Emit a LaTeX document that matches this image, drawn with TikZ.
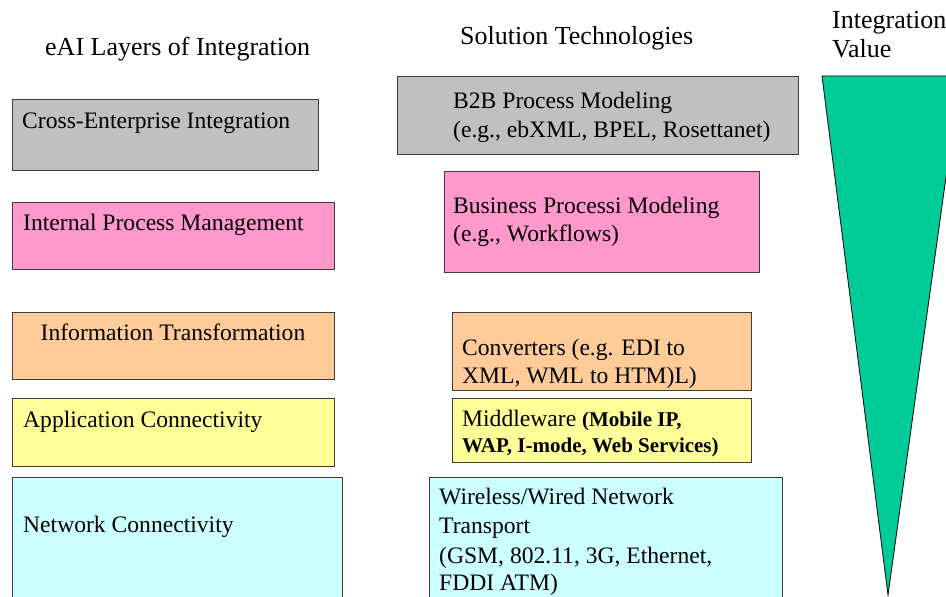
\documentclass[tikz,border=0pt]{standalone}
\usepackage{fontspec}
\setmainfont{Liberation Serif}
\definecolor{cgray}{HTML}{C0C0C0}
\definecolor{cpink}{HTML}{FF99CC}
\definecolor{corange}{HTML}{FFCC99}
\definecolor{cyellow}{HTML}{FFFF99}
\definecolor{ccyan}{HTML}{CCFFFF}
\definecolor{cgreen}{HTML}{00CC99}
\definecolor{bordc}{HTML}{3C3C3C}
\tikzset{
  layer/.style={draw=bordc, line width=0.9pt, anchor=north west, inner sep=0pt, outer sep=0pt},
  txt/.style={anchor=base west, inner sep=0pt, font=\fontsize{23.6}{28}\selectfont},
  head/.style={anchor=base west, inner sep=0pt, font=\fontsize{26}{30}\selectfont},
  boldpart/.style={font=\fontsize{21}{28}\selectfont\bfseries},
}
\begin{document}
\begin{tikzpicture}[x=1pt,y=-1pt]
\clip (0,0) rectangle (946,597);
\fill[white] (0,0) rectangle (946,597);

% headings
\node[head] (h1) at (45,56) {eAI Layers of Integration};
\node[head] (h2) at (460,45) {Solution Technologies};
\node[head] (h3a) at (832,28) {Integration};
\node[head] (h3b) at (832,57) {Value};

% left column
\node[layer, fill=cgray,   minimum width=306pt, minimum height=71pt]  (L1) at (12,99)  {};
\node[layer, fill=cpink,   minimum width=322pt, minimum height=67pt]  (L2) at (12,202) {};
\node[layer, fill=corange, minimum width=322pt, minimum height=67pt]  (L3) at (12,312) {};
\node[layer, fill=cyellow, minimum width=322pt, minimum height=68pt]  (L4) at (12,398) {};
\node[layer, fill=ccyan,   minimum width=330pt, minimum height=140pt] (L5) at (12,477) {};

\node[txt] (t1) at (22,128) {Cross-Enterprise Integration};
\node[txt] (t2) at (23,230) {Internal Process Management};
\node[txt, anchor=base] (t3) at (173,340) {Information Transformation};
\node[txt] (t4) at (23,427) {Application Connectivity};
\node[txt] (t5) at (23,532) {Network Connectivity};

% right column
\node[layer, fill=cgray,   minimum width=401pt, minimum height=78pt]  (R1) at (397,76)  {};
\node[layer, fill=cpink,   minimum width=315pt, minimum height=101pt] (R2) at (444,171) {};
\node[layer, fill=corange, minimum width=299pt, minimum height=78pt]  (R3) at (452,312) {};
\node[layer, fill=cyellow, minimum width=299pt, minimum height=64pt]  (R4) at (452,398) {};
\node[layer, fill=ccyan,   minimum width=353pt, minimum height=140pt] (R5) at (429,477) {};

\node[txt] (s1a) at (453,108) {B2B Process Modeling};
\node[txt] (s1b) at (453,137) {(e.g., ebXML, BPEL, Rosettanet)};
\node[txt] (s2a) at (453,213) {Business Processi Modeling};
\node[txt] (s2b) at (453,241) {(e.g., Workflows)};
\node[txt] (s3a) at (462,355) {Converters (e.g. EDI to};
\node[txt] (s3b) at (462,383) {XML, WML to HTM)L)};
\node[txt] (s4a) at (462,426) {Middleware {\fontsize{21}{28}\selectfont\bfseries (Mobile IP,}};
\node[txt, boldpart] (s4b) at (462,452) {WAP, I-mode, Web Services)};
\node[txt] (s5a) at (439,504) {Wireless/Wired Network};
\node[txt] (s5b) at (439,533) {Transport};
\node[txt] (s5c) at (439,563) {(GSM, 802.11, 3G, Ethernet,};
\node[txt] (s5d) at (439,590) {FDDI ATM)};

% integration value wedge
\draw[fill=cgreen, draw=black, line width=0.8pt, line join=miter]
  (822,76) -- (960,76) -- (888,595) -- cycle;
\end{tikzpicture}
\end{document}
